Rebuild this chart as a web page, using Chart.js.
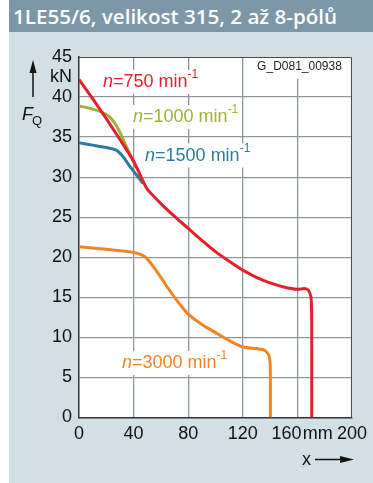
<!DOCTYPE html>
<html>
<head>
<meta charset="utf-8">
<script src="https://cdn.jsdelivr.net/npm/chart.js@4.4.1/dist/chart.umd.min.js"></script>
<style>
  body { margin: 0; background: #fff; width: 373px; height: 483px; overflow: hidden; position: relative; }
  #panel { position: absolute; left: 9px; top: 0; width: 364px; height: 483px; background: #d2dfe5; }
  #header { position: absolute; left: 9px; top: 0; width: 364px; height: 32px; background: #7c97a7;
            color: #fff; font-family: "Open Sans", sans-serif; font-weight: 600; font-size: 20.6px;
            line-height: 32px; padding-left: 4px; box-sizing: border-box; white-space: nowrap; }
  #wrap { position: absolute; left: 0; top: 0; width: 373px; height: 483px; }
</style>
</head>
<body>
<div id="panel"></div>
<div id="header">1LE55/6, velikost 315, 2 až 8-pólů</div>
<div id="wrap"><canvas id="chart" width="373" height="483"></canvas></div>
<script>
// x in mm, F_Q in kN
// the "160" label sits a bit left of its gridline to leave room for "mm"
const xTicks = [0, 40, 80, 120, 152, 160, 175, 200];
const xTickLabels = ['0', '40', '80', '120', '160', '', 'mm', '200'];
const xGridAt = [40, 80, 120, 160];
const yTicks = [0, 5, 10, 15, 20, 25, 30, 35, 40, 42.5, 45];
const yTickLabels = ['0', '5', '10', '15', '20', '25', '30', '35', '40', 'kN', '45'];
const yGridAt = [5, 10, 15, 20, 25, 30, 35, 40];

const rpm750X = [0, 10, 20, 30, 40, 45, 50, 60, 70, 80, 90, 100, 110, 120, 130, 140, 150, 160, 165, 168, 170, 170.5, 170.5];
const rpm750Y = [42.2, 39.8, 37.3, 34.7, 32.0, 30.2, 28.5, 26.7, 25.1, 23.6, 22.1, 20.7, 19.5, 18.4, 17.5, 16.8, 16.3, 16.0, 16.1, 15.9, 15.0, 12.0, 0];

const rpm1000X = [0, 10, 17, 22, 26, 30, 34, 38, 42];
const rpm1000Y = [38.9, 38.5, 38.1, 37.6, 36.8, 35.6, 34.1, 32.6, 31.2];

const rpm1500X = [0, 10, 20, 27, 30, 33, 37, 42, 47];
const rpm1500Y = [34.3, 34.0, 33.7, 33.4, 33.0, 32.4, 31.4, 30.3, 29.2];

const rpm3000X = [0, 20, 40, 46, 50, 55, 60, 65, 70, 75, 80, 90, 100, 110, 120, 130, 136, 139, 140, 140.2, 140.2];
const rpm3000Y = [21.3, 21.0, 20.6, 20.3, 19.8, 18.7, 17.5, 16.2, 15.0, 13.9, 12.9, 11.6, 10.6, 9.6, 8.8, 8.6, 8.4, 7.8, 6.8, 5.0, 0];

// curve labels: [rpm text, colour, x mm, y kN]
const curveLabels = [
  ['750', '#e3202b', 17.6, 41.9],
  ['1000', '#a2b03a', 39.6, 37.5],
  ['1500', '#2d7b9c', 48.4, 32.7],
  ['3000', '#f08526', 31.5, 6.8]
];

const FONT = '"Liberation Sans", Arial, sans-serif';

function pts(xs, ys) {
  return xs.map((x, i) => ({ x: x, y: ys[i] }));
}

function lineSet(xs, ys, color) {
  return {
    data: pts(xs, ys),
    borderColor: color,
    borderWidth: 3,
    pointRadius: 0,
    tension: 0.2,
    fill: false
  };
}

// white plot area, frame, labels and the axis arrows
const decor = {
  id: 'decor',
  beforeDraw(chart) {
    const { ctx, chartArea: a } = chart;
    ctx.save();
    ctx.fillStyle = '#fff';
    ctx.fillRect(a.left, a.top, a.right - a.left, a.bottom - a.top);
    ctx.restore();
  },
  beforeDatasetsDraw(chart) {
    const { ctx, chartArea: a, scales } = chart;
    ctx.save();

    // frame top/right
    ctx.strokeStyle = '#4a4a4a';
    ctx.lineWidth = 1;
    ctx.beginPath();
    ctx.moveTo(a.left, a.top + 0.5);
    ctx.lineTo(a.right - 0.5, a.top + 0.5);
    ctx.lineTo(a.right - 0.5, a.bottom);
    ctx.stroke();

    // drawing number
    ctx.font = '12px ' + FONT;
    ctx.textBaseline = 'middle';
    const gx = scales.x.getPixelForValue(130.5);
    const gy = scales.y.getPixelForValue(43.8);
    const gw = ctx.measureText('G_D081_00938').width;
    ctx.fillStyle = '#fff';
    ctx.fillRect(gx - 4, a.top + 1, gw + 8, 21);
    ctx.fillStyle = '#222';
    ctx.fillText('G_D081_00938', gx, gy);

    // curve labels
    curveLabels.forEach(([rpm, color, lx, ly]) => {
      let x = scales.x.getPixelForValue(lx);
      const y = scales.y.getPixelForValue(ly);
      ctx.font = 'italic 18px ' + FONT;
      const wn = ctx.measureText('n').width;
      ctx.font = '18px ' + FONT;
      const main = '=' + rpm + ' min';
      const wm = ctx.measureText(main).width;
      ctx.font = '12px ' + FONT;
      const ws = ctx.measureText('-1').width;
      ctx.fillStyle = '#fff';
      ctx.fillRect(x - 3, y - 12, wn + wm + ws + 6, 24);
      ctx.fillStyle = color;
      ctx.textBaseline = 'middle';
      ctx.font = 'italic 18px ' + FONT;
      ctx.fillText('n', x, y);
      x += wn;
      ctx.font = '18px ' + FONT;
      ctx.fillText(main, x, y);
      x += wm;
      ctx.font = '12px ' + FONT;
      ctx.fillText('-1', x, y - 7);
    });
    ctx.restore();
  },
  afterDraw(chart) {
    const { ctx } = chart;
    ctx.save();
    ctx.strokeStyle = '#111';
    ctx.fillStyle = '#111';
    ctx.lineWidth = 1.5;

    // F_Q arrow
    ctx.beginPath();
    ctx.moveTo(33, 97);
    ctx.lineTo(33, 70);
    ctx.stroke();
    ctx.beginPath();
    ctx.moveTo(33, 60);
    ctx.lineTo(29.5, 73);
    ctx.lineTo(36.5, 73);
    ctx.closePath();
    ctx.fill();

    ctx.font = 'italic 18px ' + FONT;
    ctx.textBaseline = 'alphabetic';
    ctx.fillText('F', 22, 120);
    ctx.font = '13px ' + FONT;
    ctx.fillText('Q', 32, 125);

    // x arrow
    ctx.font = '18px ' + FONT;
    ctx.fillText('x', 302, 465);
    ctx.beginPath();
    ctx.moveTo(315, 459.5);
    ctx.lineTo(342, 459.5);
    ctx.stroke();
    ctx.beginPath();
    ctx.moveTo(354, 459.5);
    ctx.lineTo(340, 456);
    ctx.lineTo(340, 463);
    ctx.closePath();
    ctx.fill();
    ctx.restore();
  }
};

const gridColor = list => ctx => {
  const v = ctx.tick ? ctx.tick.value : null;
  return list.includes(v) ? '#8e979c' : 'rgba(0,0,0,0)';
};

new Chart(document.getElementById('chart'), {
  type: 'line',
  data: {
    datasets: [
      lineSet(rpm750X, rpm750Y, '#e3202b'),
      lineSet(rpm1000X, rpm1000Y, '#a2b03a'),
      lineSet(rpm1500X, rpm1500Y, '#2d7b9c'),
      lineSet(rpm3000X, rpm3000Y, '#f08526')
    ]
  },
  options: {
    responsive: false,
    animation: false,
    layout: { padding: { top: 57, right: 21, left: 0, bottom: 0 } },
    plugins: { legend: { display: false }, tooltip: { enabled: false } },
    scales: {
      x: {
        type: 'linear',
        min: 0,
        max: 200,
        afterBuildTicks: s => { s.ticks = xTicks.map(v => ({ value: v })); },
        afterFit: s => { s.height = 65.5; },
        grid: { color: gridColor(xGridAt), lineWidth: 1.3, drawTicks: false },
        border: { color: '#333', width: 1.5 },
        ticks: {
          autoSkip: false,
          maxRotation: 0,
          padding: 6,
          color: '#111',
          font: { family: FONT, size: 18 },
          callback: v => xTickLabels[xTicks.indexOf(v)]
        }
      },
      y: {
        min: 0,
        max: 45,
        afterBuildTicks: s => { s.ticks = yTicks.map(v => ({ value: v })); },
        afterFit: s => { s.width = 79; },
        grid: { color: gridColor(yGridAt), lineWidth: 1.3, drawTicks: false },
        border: { color: '#333', width: 1.5 },
        ticks: {
          autoSkip: false,
          padding: 7,
          color: '#111',
          font: { family: FONT, size: 18 },
          callback: v => yTickLabels[yTicks.indexOf(v)]
        }
      }
    }
  },
  plugins: [decor]
});
</script>
</body>
</html>
